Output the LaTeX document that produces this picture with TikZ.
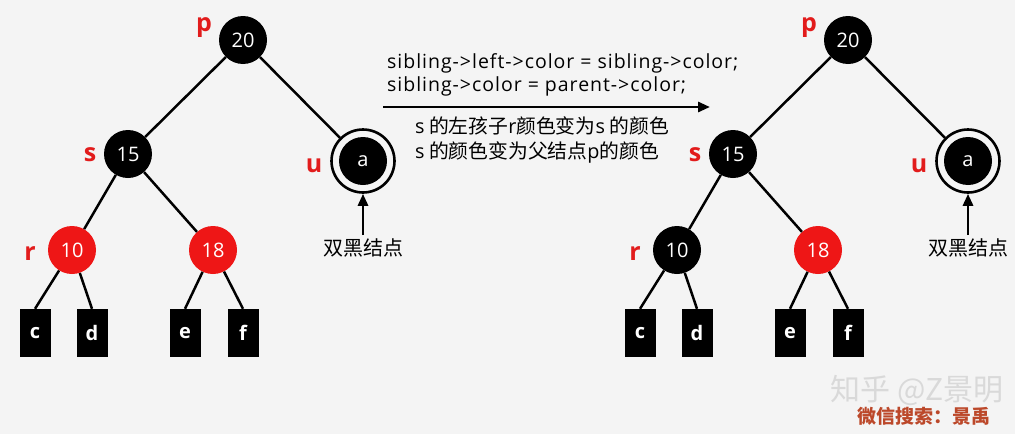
\documentclass[tikz,border=0pt]{standalone}
\usepackage{fontspec}
\setmainfont{Open Sans}
\newfontfamily\cjk{Noto Sans CJK SC}
\newfontfamily\codefont[LetterSpace=5]{Open Sans}
\usetikzlibrary{positioning, arrows.meta}
\definecolor{nodered}{RGB}{238,22,22}
\definecolor{labelred}{RGB}{226,28,28}
\definecolor{bgcolor}{RGB}{244,244,244}
\definecolor{wxred}{RGB}{188,72,42}

\begin{document}
\begin{tikzpicture}[x=1pt, y=-1pt,
    blacknode/.style={circle, fill=black, text=white, inner sep=0pt,
      minimum size=48pt, font=\fontsize{20}{20}\selectfont},
    rednode/.style={blacknode, fill=nodered},
    ringnode/.style={circle, draw=black, line width=2.6pt, inner sep=0pt,
      minimum size=63pt},
    leafbox/.style={rectangle, fill=black, text=white, inner sep=0pt,
      minimum width=31pt, minimum height=48pt,
      font=\fontsize{20}{20}\selectfont\bfseries},
    namelabel/.style={anchor=base, text=labelred,
      font=\fontsize{25}{25}\selectfont\bfseries},
    edge/.style={line width=2.5pt},
    bigarrow/.style={line width=2.8pt, -{Triangle[length=12pt, width=10pt]}},
    codetext/.style={font=\fontsize{19.5}{23}\selectfont\codefont},
    cntext/.style={font=\fontsize{19.8}{25}\selectfont\cjk}
  ]

    \fill[bgcolor] (0,0) rectangle (1015,434);
    \useasboundingbox (0,0) rectangle (1015,434);

    % left tree
    \node[blacknode] (p) at (243,40) {20};
    \node[blacknode] (s) at (128,154) {15};
    \node[ringnode] (uring) at (363,161) {};
    \node[blacknode] (u) at (uring.center) {a};
    \node[rednode] (r) at (72,250) {10};
    \node[rednode] (sr) at (213,250) {18};

    \node[leafbox] (c) at (35,333) {c};
    \node[leafbox] (d) at (92,333) {d};
    \node[leafbox] (e) at (185,333) {e};
    \node[leafbox] (f) at (243,333) {f};

    \node[namelabel] (pl) at (204,31) {p};
    \node[namelabel] (sl) at (90,161) {s};
    \node[namelabel] (ul) at (314,172) {u};
    \node[namelabel] (rl) at (30,260) {r};

    \draw[edge] (p)--(s);
    \draw[edge] (p)--(uring);
    \draw[edge] (s)--(r);
    \draw[edge] (s)--(sr);
    \draw[edge] (r)--(c.north);
    \draw[edge] (r)--(d.north);
    \draw[edge] (sr)--(e.north);
    \draw[edge] (sr)--(f.north);

    \node[cntext, font=\fontsize{20}{20}\selectfont\cjk] (dbl)
      at (363,248) {双黑结点};
    \draw[bigarrow] (dbl.north)--(uring.south);

    % middle
    \coordinate (arrs) at (383,107);
    \coordinate (arre) at (710,107);
    \draw[bigarrow] (arrs)--(arre);

    \node[codetext, align=left, anchor=south west,
      inner sep=0pt] (code) at (387,96)
      {sibling->left->color = sibling->color;\\
       sibling->color = parent->color;};
    \node[cntext, align=left, anchor=north west,
      inner sep=0pt] (cn) at (415,116)
      {{\rmfamily s} 的左孩子{\rmfamily r}颜色变为{\rmfamily s} 的颜色\\
       {\rmfamily s} 的颜色变为父结点{\rmfamily p}的颜色};

    % right tree
    \node[blacknode] (p2) at (848,40) {20};
    \node[blacknode] (s2) at (733,154) {15};
    \node[ringnode] (uring2) at (968,161) {};
    \node[blacknode] (u2) at (uring2.center) {a};
    \node[blacknode] (r2) at (677,250) {10};
    \node[rednode] (sr2) at (818,250) {18};

    \node[leafbox] (c2) at (640,333) {c};
    \node[leafbox] (d2) at (697,333) {d};
    \node[leafbox] (e2) at (790,333) {e};
    \node[leafbox] (f2) at (848,333) {f};

    \node[namelabel] (pl2) at (809,31) {p};
    \node[namelabel] (sl2) at (695,161) {s};
    \node[namelabel] (ul2) at (919,172) {u};
    \node[namelabel] (rl2) at (635,260) {r};

    \draw[edge] (p2)--(s2);
    \draw[edge] (p2)--(uring2);
    \draw[edge] (s2)--(r2);
    \draw[edge] (s2)--(sr2);
    \draw[edge] (r2)--(c2.north);
    \draw[edge] (r2)--(d2.north);
    \draw[edge] (sr2)--(e2.north);
    \draw[edge] (sr2)--(f2.north);

    \node[cntext, font=\fontsize{20}{20}\selectfont\cjk] (dbl2)
      at (968,248) {双黑结点};
    \draw[bigarrow] (dbl2.north)--(uring2.south);

    % watermark
    \node[text=gray!30, font=\fontsize{30}{30}\selectfont\cjk] (zh)
      at (917,390) {知乎 @Z景明};
    \node[text=wxred, font=\fontsize{19}{19}\selectfont\cjk\bfseries] (wx)
      at (924,416) {微信搜索：景禹};
\end{tikzpicture}
\end{document}
